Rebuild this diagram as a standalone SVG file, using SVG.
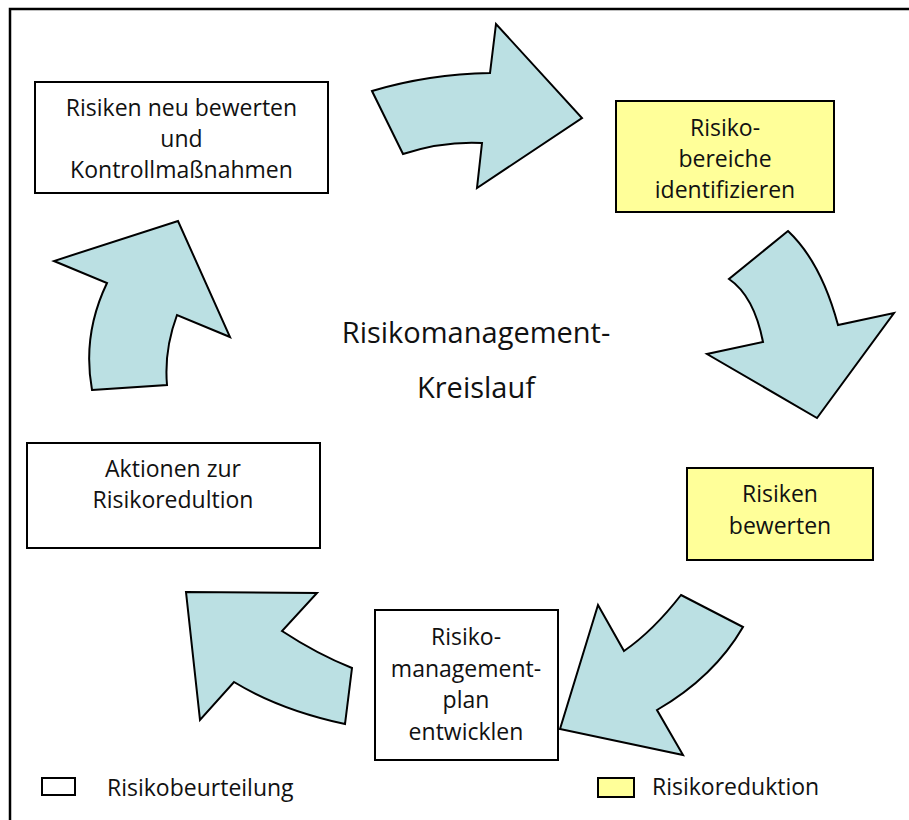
<svg xmlns="http://www.w3.org/2000/svg" width="909" height="820" viewBox="0 0 909 820">
<style>
.box{fill:#ffffff;stroke:#000000;stroke-width:2}
.yel{fill:#ffff99;stroke:#000000;stroke-width:2}
.arr{fill:#bbe0e3;stroke:#000000;stroke-width:2;stroke-linejoin:miter}
text{font-family:"Open Sans","DejaVu Sans",sans-serif;fill:#111111;text-anchor:middle}
.t{font-size:23px}
.title{font-size:29px}
.leg{font-size:23px;text-anchor:start}
</style>
<rect width="909" height="820" fill="#ffffff"/>
<path d="M10,820 V9 H909" fill="none" stroke="#000" stroke-width="2.5"/>
<g id="node-kontroll">
<rect class="box" x="35" y="82" width="293" height="111"/>
<text class="t" x="181.5" y="116">Risiken neu bewerten</text>
<text class="t" x="181.5" y="147">und</text>
<text class="t" x="181.5" y="178">Kontrollmaßnahmen</text>
</g>
<g id="node-identifizieren">
<rect class="yel" x="616" y="101" width="218" height="111"/>
<text class="t" x="725" y="136">Risiko-</text>
<text class="t" x="725" y="167">bereiche</text>
<text class="t" x="725" y="198">identifizieren</text>
</g>
<g id="node-bewerten">
<rect class="yel" x="687" y="468" width="186" height="92"/>
<text class="t" x="780" y="502">Risiken</text>
<text class="t" x="780" y="534">bewerten</text>
</g>
<g id="node-plan">
<rect class="box" x="375" y="610" width="183" height="150"/>
<text class="t" x="466" y="645">Risiko-</text>
<text class="t" x="466" y="677">management-</text>
<text class="t" x="466" y="708">plan</text>
<text class="t" x="466" y="740">entwicklen</text>
</g>
<g id="node-aktionen">
<rect class="box" x="27" y="443" width="293" height="105"/>
<text class="t" x="173" y="477">Aktionen zur</text>
<text class="t" x="173" y="508">Risikoredultion</text>
</g>
<g id="title">
<text class="title" x="476" y="343">Risikomanagement-</text>
<text class="title" x="476" y="398">Kreislauf</text>
</g>
<g id="connectors">
<path class="arr" d="M372,91 Q429,74 490,73 L496,24 L582,118 L477,188 L482,143 Q443,141 403,154 Z"/>
<path class="arr" d="M788,231 L729,279 Q754,296 763,342 L707,354 L817,418 L894,313 L838,325 Q821,262 788,231 Z"/>
<path class="arr" d="M681,595 L743,627 Q714,677 657,710 L683,755 L560,729 L598,605 L624,651 Q653,631 681,595 Z"/>
<path class="arr" d="M186,592 L317,593 L282,631 Q317,654 352,668 L345,724 Q280,710 234,682 L200,720 Z"/>
<path class="arr" d="M92,390 L167,385 Q164,350 177,315 L230,337 L178,221 L54,261 L107,283 Q82,335 92,390 Z"/>
</g>
<g id="legend">
<rect x="42" y="778" width="33" height="17" fill="#ffffff" stroke="#000" stroke-width="2"/>
<text class="leg" x="107" y="796">Risikobeurteilung</text>
<rect x="598" y="778" width="36" height="19" fill="#ffff99" stroke="#000" stroke-width="2"/>
<text class="leg" x="652" y="795">Risikoreduktion</text>
</g>
</svg>
